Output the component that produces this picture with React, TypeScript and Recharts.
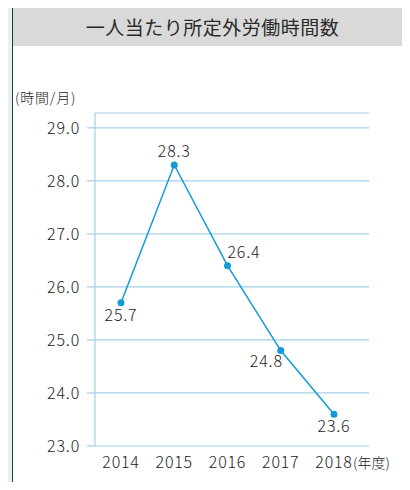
import React from "react";
import {
	LineChart,
	Line,
	XAxis,
	YAxis,
	CartesianGrid,
	LabelList,
} from "recharts";

const years = ["2014", "2015", "2016", "2017", "2018"];
const hours = [25.7, 28.3, 26.4, 24.8, 23.6];
const yTicks = [23, 24, 25, 26, 27, 28, 29];

const chartData = years.map((year, i) => ({ year, hours: hours[i] }));

const FONT = "'Noto Sans CJK JP', 'Noto Sans', sans-serif";
const TEXT = "#222";
const GRID = "#a6cfe9";
const LINE = "#139bd4";

// where each value label sits relative to its dot
const labelPlace: { anchor: "start" | "middle" | "end"; dx: number; dy: number }[] = [
	{ anchor: "middle", dx: 0, dy: 18 },
	{ anchor: "middle", dx: 0, dy: -8 },
	{ anchor: "start", dx: 0, dy: -8 },
	{ anchor: "end", dx: 2, dy: 16 },
	{ anchor: "middle", dx: 0, dy: 18 },
];

const numStyle = {
	fill: TEXT,
	fontSize: 16,
	fontFamily: FONT,
	fontWeight: 300,
	letterSpacing: 0.8,
};

function YearTick(props: any) {
	const { x, y, payload, index } = props;
	const last = index === years.length - 1;
	return (
		<g>
			<text x={x} y={y} dy={14} textAnchor="middle" {...numStyle}>
				{payload.value}
			</text>
			{last && (
				<text
					x={x + 19}
					y={y}
					dy={14}
					fill={TEXT}
					fontSize={14}
					fontWeight={300}
					fontFamily={FONT}
				>
					(年度)
				</text>
			)}
		</g>
	);
}

function ValueLabel(props: any) {
	const { x, y, value, index } = props;
	const p = labelPlace[index] ?? labelPlace[0];
	return (
		<text x={x + p.dx} y={y + p.dy} textAnchor={p.anchor} {...numStyle}>
			{Number(value).toFixed(1)}
		</text>
	);
}

export default function App() {
	return (
		<div
			style={{
				position: "relative",
				width: 410,
				height: 490,
				margin: -8,
				overflow: "hidden",
				background: "#e3f1f9",
				fontFamily: FONT,
			}}
		>
			<div
				style={{
					position: "absolute",
					left: 12,
					top: 6,
					right: -2,
					bottom: -2,
					background: "#fff",
					borderLeft: "1px solid #333",
					borderTop: "2px solid #7a7a7a",
				}}
			>
				<div
					style={{
						height: 38,
						background: "#d9d9d9",
						color: "#2a2a2a",
						fontSize: 19,
						letterSpacing: 0.5,
						lineHeight: "38px",
						textAlign: "center",
					}}
				>
					一人当たり所定外労働時間数
				</div>
			</div>
			<div
				style={{
					position: "absolute",
					left: 15,
					top: 87,
					fontSize: 14,
					fontWeight: 300,
					letterSpacing: 0.8,
					color: TEXT,
				}}
			>
				(時間/月)
			</div>
			<div style={{ position: "absolute", left: 0, top: 0 }}>
				<LineChart
					width={410}
					height={490}
					data={chartData}
					margin={{ top: 113, right: 41, bottom: 14, left: 0 }}
				>
					<CartesianGrid vertical={false} stroke={GRID} strokeWidth={1.2} />
					<XAxis
						dataKey="year"
						padding={{ left: 26, right: 35 }}
						axisLine={false}
						tickLine={false}
						height={30}
						tick={<YearTick />}
					/>
					<YAxis
						width={95}
						domain={[23, 29.28]}
						ticks={yTicks}
						allowDataOverflow
						axisLine={{ stroke: GRID, strokeWidth: 1.2 }}
						tickLine={{ stroke: GRID, strokeWidth: 1.2 }}
						tickSize={8}
						tickMargin={7}
						tickFormatter={(v: number) => v.toFixed(1)}
						tick={numStyle}
					/>
					<Line
						type="linear"
						dataKey="hours"
						stroke={LINE}
						strokeWidth={1.5}
						dot={{ r: 3.5, fill: LINE, stroke: "none" }}
						activeDot={false}
						isAnimationActive={false}
					>
						<LabelList dataKey="hours" content={<ValueLabel />} />
					</Line>
				</LineChart>
			</div>
		</div>
	);
}
